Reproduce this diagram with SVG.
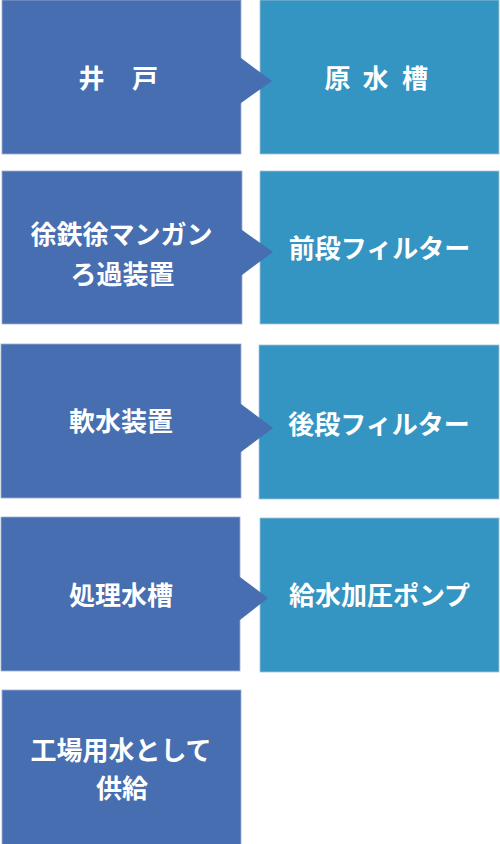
<svg xmlns="http://www.w3.org/2000/svg" width="500" height="844" viewBox="0 0 500 844">
<style>
.l{fill:#466EB0;stroke:#9db0cc;stroke-width:0.8}
.r{fill:#3494C2;stroke:#a3c3d6;stroke-width:0.8}
.a{fill:#466EB0}
text{font-family:"Noto Sans CJK JP","Noto Sans",sans-serif;font-weight:bold;font-size:26px;fill:#ffffff;text-anchor:middle}
</style>
<rect width="500" height="844" fill="#ffffff"/>
<g id="node-genui">
<rect class="r" x="260" y="0" width="239" height="154"/>
<text x="337.5 375.5 415" y="88">原水槽</text>
</g>
<g id="node-ido">
<rect class="l" x="2" y="0" width="239" height="154"/>
<text x="91.5 145" y="88">井戸</text>
</g>
<g id="node-zendan">
<rect class="r" x="260" y="171" width="239" height="153"/>
<text x="379.5" y="258">前段フィルター</text>
</g>
<g id="node-jotetsu">
<rect class="l" x="2" y="171" width="240" height="153"/>
<text x="121.5" y="244">徐鉄徐マンガン</text>
<text x="122.5" y="284">ろ過装置</text>
</g>
<g id="node-kodan">
<rect class="r" x="259" y="345" width="240" height="154"/>
<text x="379" y="434">後段フィルター</text>
</g>
<g id="node-nansui">
<rect class="l" x="1" y="344" width="240" height="154"/>
<text x="121" y="431">軟水装置</text>
</g>
<g id="node-pump">
<rect class="r" x="260" y="518" width="239" height="154"/>
<text x="379.5" y="605">給水加圧ポンプ</text>
</g>
<g id="node-shori">
<rect class="l" x="1" y="517" width="239" height="154"/>
<text x="121" y="605">処理水槽</text>
</g>
<g id="node-kyokyu">
<rect class="l" x="2" y="690" width="239" height="160"/>
<text x="121" y="760">工場用水として</text>
<text x="122" y="798">供給</text>
</g>
<g id="connectors">
<polygon class="a" points="240,57.3 272,81 240,103.7"/>
<polygon class="a" points="241,229.3 273,252 241,275.7"/>
<polygon class="a" points="240,403.2 273,428 240,452.8"/>
<polygon class="a" points="239,576.3 268,598 239,620.7"/>
</g>
</svg>
